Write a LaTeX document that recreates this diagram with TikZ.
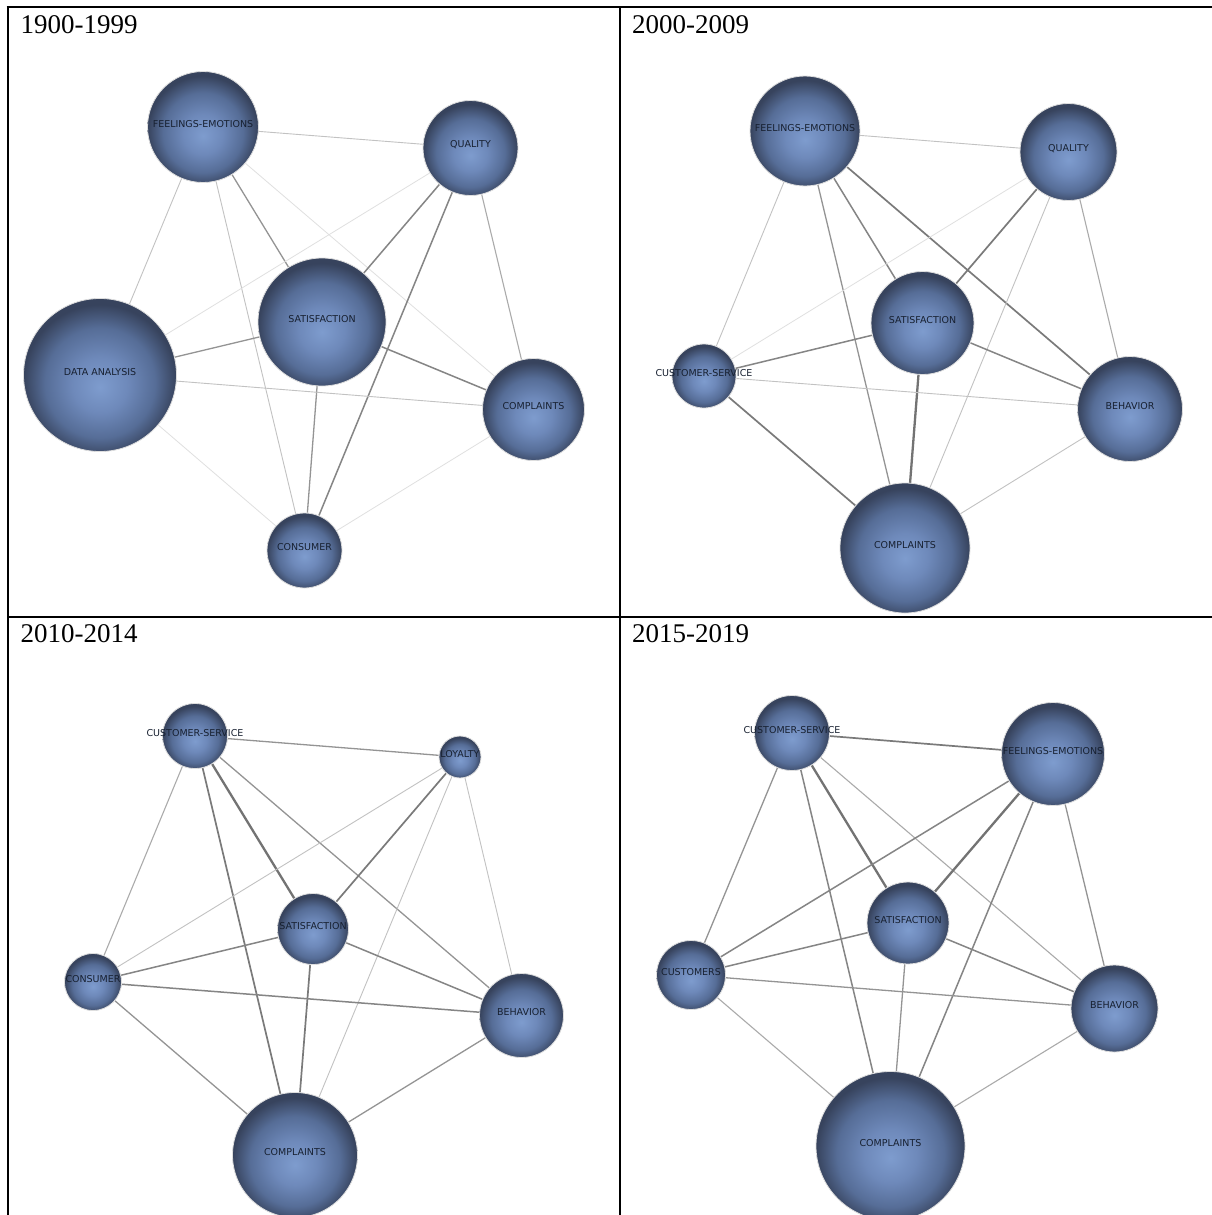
\documentclass[tikz,border=0pt]{standalone}
\usepackage{fontspec}
\setmainfont{Liberation Serif}
\newfontfamily\lblfamily{DejaVu Sans}
\usetikzlibrary{backgrounds}
\definecolor{ballA}{HTML}{7E9CCE}
\definecolor{ballB}{HTML}{6E89BA}
\definecolor{ballC}{HTML}{566D97}
\definecolor{ballD}{HTML}{37435D}
\definecolor{lblcol}{HTML}{172030}
\pgfdeclareradialshading{nodeball}{\pgfpoint{0bp}{-4bp}}{color(0bp)=(ballA); color(9bp)=(ballB); color(18bp)=(ballC); color(25bp)=(ballD); color(50bp)=(ballD)}
\tikzset{
  ball/.style={circle, inner sep=0pt, minimum size=#1pt, shading=nodeball, draw=black!13, line width=0.8pt},
  lbl/.style={font=\lblfamily\fontsize{9.5}{11}\selectfont, text=lblcol, inner sep=0pt, yshift=3.4pt},
  yeartitle/.style={font=\fontsize{27}{31}\selectfont, anchor=base west, inner sep=0pt},
  frame/.style={line width=2pt, black},
  wA/.style={draw=black!12, line width=0.8pt},
  wB/.style={draw=black!24, line width=0.9pt},
  wC/.style={draw=black!33, line width=1.1pt},
  wD/.style={draw=black!42, line width=1.3pt},
  wE/.style={draw=black!48, line width=1.5pt},
  wF/.style={draw=black!52, line width=1.7pt},
  wG/.style={draw=black!55, line width=2.3pt}
}
\begin{document}
\begin{tikzpicture}[x=1pt,y=-1pt]
\useasboundingbox (0,0) rectangle (1212,1215);
% titles
\node[yeartitle] (t1) at (20.5,34) {1900-1999};
\node[yeartitle] (t2) at (632,34) {2000-2009};
\node[yeartitle] (t3) at (20.5,642) {2010-2014};
\node[yeartitle] (t4) at (632,642) {2015-2019};
% panel 1
\node[ball=111, label={[lbl]center:FEELINGS-EMOTIONS}] (p1fe) at (203,127) {};
\node[ball=95, label={[lbl]center:QUALITY}] (p1q) at (470.5,148) {};
\node[ball=128, label={[lbl]center:SATISFACTION}] (p1s) at (322,322) {};
\node[ball=153, label={[lbl]center:DATA ANALYSIS}] (p1da) at (100,375) {};
\node[ball=102, label={[lbl]center:COMPLAINTS}] (p1c) at (533.5,409.5) {};
\node[ball=75, label={[lbl]center:CONSUMER}] (p1cn) at (304.5,550.5) {};
% panel 2
\node[ball=110, label={[lbl]center:FEELINGS-EMOTIONS}] (p2fe) at (805,131) {};
\node[ball=97, label={[lbl]center:QUALITY}] (p2q) at (1068.5,152) {};
\node[ball=103, label={[lbl]center:SATISFACTION}] (p2s) at (922.5,323) {};
\node[ball=64, label={[lbl]center:CUSTOMER-SERVICE}] (p2cs) at (704,376) {};
\node[ball=105, label={[lbl]center:BEHAVIOR}] (p2b) at (1130,409) {};
\node[ball=130, label={[lbl]center:COMPLAINTS}] (p2c) at (905,548) {};
% panel 3
\node[ball=65, label={[lbl]center:CUSTOMER-SERVICE}] (p3cs) at (195,736) {};
\node[ball=42, label={[lbl]center:LOYALTY}] (p3l) at (460,757) {};
\node[ball=71, label={[lbl]center:SATISFACTION}] (p3s) at (313,929) {};
\node[ball=57, label={[lbl]center:CONSUMER}] (p3cn) at (93,982) {};
\node[ball=84, label={[lbl]center:BEHAVIOR}] (p3b) at (521.5,1015.5) {};
\node[ball=125, label={[lbl]center:COMPLAINTS}] (p3c) at (295,1155) {};
% panel 4
\node[ball=75, label={[lbl]center:CUSTOMER-SERVICE}] (p4cs) at (792,733) {};
\node[ball=103, label={[lbl]center:FEELINGS-EMOTIONS}] (p4fe) at (1053,754) {};
\node[ball=82, label={[lbl]center:SATISFACTION}] (p4s) at (908,923) {};
\node[ball=69, label={[lbl]center:CUSTOMERS}] (p4cu) at (691,975) {};
\node[ball=87, label={[lbl]center:BEHAVIOR}] (p4b) at (1114.5,1008.5) {};
\node[ball=149, label={[lbl]center:COMPLAINTS}] (p4c) at (890.5,1146) {};
\begin{scope}[on background layer]
\fill[white] (0,0) rectangle (1212,1215);
% panel 1 edges
\draw[wB] (p1fe) -- (p1q);
\draw[wB] (p1fe) -- (p1da);
\draw[wD] (p1fe) -- (p1s);
\draw[wB] (p1fe) -- (p1cn);
\draw[wA] (p1fe) -- (p1c);
\draw[wE] (p1q) -- (p1s);
\draw[wA] (p1q) -- (p1da);
\draw[wE] (p1q) -- (p1cn);
\draw[wC] (p1q) -- (p1c);
\draw[wD] (p1s) -- (p1da);
\draw[wE] (p1s) -- (p1c);
\draw[wD] (p1s) -- (p1cn);
\draw[wB] (p1da) -- (p1c);
\draw[wA] (p1da) -- (p1cn);
\draw[wA] (p1c) -- (p1cn);
% panel 2 edges
\draw[wB] (p2fe) -- (p2q);
\draw[wB] (p2fe) -- (p2cs);
\draw[wE] (p2fe) -- (p2s);
\draw[wD] (p2fe) -- (p2c);
\draw[wF] (p2fe) -- (p2b);
\draw[wF] (p2q) -- (p2s);
\draw[wA] (p2q) -- (p2cs);
\draw[wB] (p2q) -- (p2c);
\draw[wC] (p2q) -- (p2b);
\draw[wE] (p2s) -- (p2cs);
\draw[wE] (p2s) -- (p2b);
\draw[wG] (p2s) -- (p2c);
\draw[wB] (p2cs) -- (p2b);
\draw[wF] (p2cs) -- (p2c);
\draw[wB] (p2b) -- (p2c);
% panel 3 edges
\draw[wD] (p3cs) -- (p3l);
\draw[wC] (p3cs) -- (p3cn);
\draw[wG] (p3cs) -- (p3s);
\draw[wF] (p3cs) -- (p3c);
\draw[wD] (p3cs) -- (p3b);
\draw[wF] (p3l) -- (p3s);
\draw[wB] (p3l) -- (p3cn);
\draw[wB] (p3l) -- (p3c);
\draw[wB] (p3l) -- (p3b);
\draw[wE] (p3s) -- (p3cn);
\draw[wE] (p3s) -- (p3b);
\draw[wF] (p3s) -- (p3c);
\draw[wE] (p3cn) -- (p3b);
\draw[wD] (p3cn) -- (p3c);
\draw[wD] (p3b) -- (p3c);
% panel 4 edges
\draw[wF] (p4cs) -- (p4fe);
\draw[wD] (p4cs) -- (p4cu);
\draw[wG] (p4cs) -- (p4s);
\draw[wE] (p4cs) -- (p4c);
\draw[wC] (p4cs) -- (p4b);
\draw[wG] (p4fe) -- (p4s);
\draw[wE] (p4fe) -- (p4cu);
\draw[wE] (p4fe) -- (p4c);
\draw[wD] (p4fe) -- (p4b);
\draw[wE] (p4s) -- (p4cu);
\draw[wE] (p4s) -- (p4b);
\draw[wD] (p4s) -- (p4c);
\draw[wD] (p4cu) -- (p4b);
\draw[wC] (p4cu) -- (p4c);
\draw[wC] (p4b) -- (p4c);
\end{scope}
% frame
\draw[frame] (6.5,7.5) -- (1212,7.5);
\draw[frame] (7.5,6.5) -- (7.5,1215);
\draw[frame] (620,7.5) -- (620,1215);
\draw[frame] (7.5,617) -- (1212,617);
\end{tikzpicture}
\end{document}
